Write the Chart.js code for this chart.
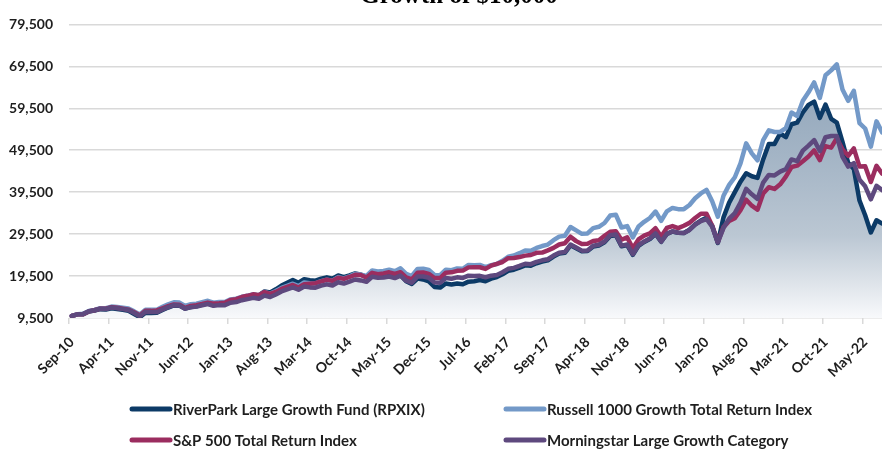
<!DOCTYPE html>
<html>
<head>
<meta charset="utf-8">
<title>Growth of $10,000</title>
<script src="https://cdn.jsdelivr.net/npm/chart.js@4.4.0/dist/chart.umd.min.js"></script>
<style>
  html, body { margin: 0; padding: 0; background: #fff; overflow: hidden; }
  #wrap { position: relative; width: 885px; height: 449px; }
</style>
</head>
<body>
<div id="wrap"><canvas id="growthChart"></canvas></div>
<script>
// month-end categories, Sep-10 .. Aug-22
const months = [
  'Sep-10', 'Oct-10', 'Nov-10', 'Dec-10',
  'Jan-11', 'Feb-11', 'Mar-11', 'Apr-11', 'May-11', 'Jun-11', 'Jul-11', 'Aug-11', 'Sep-11', 'Oct-11', 'Nov-11', 'Dec-11',
  'Jan-12', 'Feb-12', 'Mar-12', 'Apr-12', 'May-12', 'Jun-12', 'Jul-12', 'Aug-12', 'Sep-12', 'Oct-12', 'Nov-12', 'Dec-12',
  'Jan-13', 'Feb-13', 'Mar-13', 'Apr-13', 'May-13', 'Jun-13', 'Jul-13', 'Aug-13', 'Sep-13', 'Oct-13', 'Nov-13', 'Dec-13',
  'Jan-14', 'Feb-14', 'Mar-14', 'Apr-14', 'May-14', 'Jun-14', 'Jul-14', 'Aug-14', 'Sep-14', 'Oct-14', 'Nov-14', 'Dec-14',
  'Jan-15', 'Feb-15', 'Mar-15', 'Apr-15', 'May-15', 'Jun-15', 'Jul-15', 'Aug-15', 'Sep-15', 'Oct-15', 'Nov-15', 'Dec-15',
  'Jan-16', 'Feb-16', 'Mar-16', 'Apr-16', 'May-16', 'Jun-16', 'Jul-16', 'Aug-16', 'Sep-16', 'Oct-16', 'Nov-16', 'Dec-16',
  'Jan-17', 'Feb-17', 'Mar-17', 'Apr-17', 'May-17', 'Jun-17', 'Jul-17', 'Aug-17', 'Sep-17', 'Oct-17', 'Nov-17', 'Dec-17',
  'Jan-18', 'Feb-18', 'Mar-18', 'Apr-18', 'May-18', 'Jun-18', 'Jul-18', 'Aug-18', 'Sep-18', 'Oct-18', 'Nov-18', 'Dec-18',
  'Jan-19', 'Feb-19', 'Mar-19', 'Apr-19', 'May-19', 'Jun-19', 'Jul-19', 'Aug-19', 'Sep-19', 'Oct-19', 'Nov-19', 'Dec-19',
  'Jan-20', 'Feb-20', 'Mar-20', 'Apr-20', 'May-20', 'Jun-20', 'Jul-20', 'Aug-20', 'Sep-20', 'Oct-20', 'Nov-20', 'Dec-20',
  'Jan-21', 'Feb-21', 'Mar-21', 'Apr-21', 'May-21', 'Jun-21', 'Jul-21', 'Aug-21', 'Sep-21', 'Oct-21', 'Nov-21', 'Dec-21',
  'Jan-22', 'Feb-22', 'Mar-22', 'Apr-22', 'May-22', 'Jun-22', 'Jul-22', 'Aug-22',
];

// labels actually printed under the axis
const xTickLabels = [
  'Sep-10', 'Apr-11', 'Nov-11', 'Jun-12', 'Jan-13', 'Aug-13', 'Mar-14', 'Oct-14', 'May-15', 'Dec-15', 'Jul-16',
  'Feb-17', 'Sep-17', 'Apr-18', 'Nov-18', 'Jun-19', 'Jan-20', 'Aug-20', 'Mar-21', 'Oct-21', 'May-22',
];

const yTickValues = [9500, 19500, 29500, 39500, 49500, 59500, 69500, 79500];

const seriesNames = [
  'RiverPark Large Growth Fund (RPXIX)',
  'Russell 1000 Growth Total Return Index',
  'S&P 500 Total Return Index',
  'Morningstar Large Growth Category',
];

const riverPark = [
  10000, 10370, 10420, 11070,
  11260, 11600, 11540, 11840, 11660, 11430, 11200, 10470, 9700, 10770, 10720, 10730,
  11400, 12000, 12480, 12450, 11730, 12130, 12300, 12680, 13020, 12620, 12830, 12870,
  13530, 13770, 14300, 14660, 15050, 14900, 15830, 15580, 16350, 17230, 17890, 18550,
  17920, 18760, 18490, 18400, 18880, 19200, 18860, 19630, 19220, 19640, 20150, 19850,
  19320, 20390, 19940, 19820, 19890, 19310, 19710, 18290, 17610, 18890, 18700, 18210,
  16890, 16750, 17730, 17500, 17720, 17530, 18170, 18280, 18540, 18280, 18870, 19280,
  19940, 20770, 21020, 21500, 22050, 21980, 22550, 22950, 23240, 24140, 24860, 25050,
  26820, 26110, 25390, 25450, 26540, 26790, 27550, 29050, 29220, 26600, 26880, 24560,
  26710, 27620, 28340, 29590, 27670, 29520, 30140, 29840, 29780, 30550, 31830, 32720,
  33400, 31500, 27400, 33500, 37000, 39500, 42000, 44000, 43300, 42900, 47300, 51000,
  51000, 53500, 52600, 55700, 56100, 58500, 60300, 61100, 57200, 60400, 57000, 56100,
  51500, 46500, 45000, 37500, 34000, 29900, 32800, 32000,
];

const russellGrowth = [
  10000, 10400, 10490, 11190,
  11440, 11850, 11850, 12230, 12120, 11950, 11770, 11080, 10320, 11480, 11450, 11480,
  12160, 12770, 13240, 13170, 12380, 12770, 12920, 13280, 13600, 13150, 13330, 13330,
  13930, 14100, 14550, 14830, 15140, 14900, 15700, 15330, 15950, 16670, 17170, 17670,
  17120, 17980, 17780, 17740, 18280, 18640, 18400, 19250, 18940, 19450, 20050, 19850,
  19530, 20840, 20610, 20720, 21030, 20650, 21330, 20030, 19510, 21190, 21230, 20930,
  19760, 19720, 21020, 20890, 21310, 21230, 22160, 22070, 22160, 21630, 22100, 22370,
  23130, 24100, 24390, 24950, 25600, 25520, 26190, 26660, 27010, 28060, 28900, 29130,
  31200, 30390, 29570, 29660, 30930, 31240, 32150, 33920, 34120, 31080, 31420, 28720,
  31310, 32430, 33340, 34880, 32680, 34930, 35740, 35450, 35450, 36440, 38050, 39190,
  40050, 37330, 33670, 38650, 41240, 43060, 46370, 51150, 48750, 47090, 51890, 54230,
  53850, 53850, 54760, 58490, 57670, 61300, 63320, 65670, 61990, 67380, 68530, 69970,
  63960, 61280, 63670, 55980, 54680, 50350, 56390, 53760,
];

const sp500 = [
  10000, 10380, 10380, 11070,
  11340, 11730, 11730, 12080, 11940, 11740, 11500, 10880, 10110, 11220, 11200, 11310,
  11820, 12330, 12730, 12650, 11890, 12380, 12560, 12840, 13170, 12930, 13000, 13120,
  13800, 13990, 14510, 14790, 15140, 14930, 15690, 15240, 15720, 16440, 16940, 17370,
  16770, 17540, 17680, 17810, 18230, 18610, 18350, 19090, 18820, 19280, 19800, 19750,
  19160, 20260, 19940, 20130, 20390, 19990, 20410, 19180, 18710, 20290, 20350, 20030,
  19040, 19010, 20300, 20380, 20750, 20800, 21570, 21600, 21600, 21210, 21990, 22430,
  22850, 23760, 23790, 24030, 24370, 24520, 25030, 25110, 25620, 26220, 27030, 27330,
  28890, 27830, 27120, 27220, 27880, 28050, 29090, 30040, 30210, 28150, 28720, 26130,
  28220, 29130, 29690, 30900, 28930, 30970, 31420, 30920, 31500, 32180, 33350, 34360,
  34340, 31520, 27630, 31170, 32650, 33300, 35180, 37710, 36280, 35310, 39180, 40680,
  40270, 41380, 43200, 45500, 45820, 46890, 48010, 49460, 47160, 50470, 50120, 52370,
  49660, 48170, 49960, 45600, 45690, 41920, 45780, 43910,
];

const morningstarGrowth = [
  10000, 10380, 10460, 11130,
  11340, 11700, 11660, 11990, 11830, 11620, 11410, 10690, 9920, 11000, 10920, 10910,
  11540, 12110, 12550, 12470, 11720, 12080, 12210, 12550, 12840, 12400, 12570, 12560,
  13140, 13300, 13740, 14010, 14310, 14090, 14870, 14510, 15120, 15820, 16300, 16790,
  16240, 17020, 16800, 16740, 17210, 17520, 17260, 18030, 17710, 18150, 18680, 18460,
  18140, 19320, 19080, 19140, 19400, 19020, 19610, 18390, 17880, 19380, 19390, 19090,
  17980, 17890, 19020, 18870, 19190, 19060, 19600, 19500, 19550, 19220, 19590, 19770,
  20410, 21230, 21450, 21910, 22440, 22330, 22880, 23250, 23510, 24380, 25070, 25230,
  27000, 26290, 25560, 25620, 26710, 26960, 27730, 29230, 29390, 26760, 27040, 24700,
  26850, 27740, 28440, 29670, 27720, 29550, 30150, 29820, 29740, 30490, 31740, 32600,
  33100, 31300, 27500, 31000, 33200, 34500, 37000, 40300, 39000, 37900, 41800, 43600,
  43500, 44400, 45000, 47300, 46900, 49400, 50600, 51900, 49300, 52600, 52900, 52900,
  47900, 45600, 46400, 42500, 40900, 37800, 41000, 40000,
];

const colors = ['#0c3a66', '#7399c8', '#9b2d5f', '#5e497e'];
const labelFont = { family: 'Lato, "Open Sans", sans-serif', size: 14, weight: '700' };
const textColor = '#1e1e1e';
const lightGrid = '#d9d9d9';

function isLabelled(index) {
  return xTickLabels.includes(months[index]);
}

// shaded area under the fund line, fading to white at the axis
function fundFill(context) {
  const chart = context.chart;
  const area = chart.chartArea;
  if (!area) {
    return 'rgba(0,0,0,0)';
  }
  const g = chart.ctx.createLinearGradient(0, area.top, 0, area.bottom);
  g.addColorStop(0, 'rgb(132,155,178)');
  g.addColorStop(0.44, 'rgb(163,180,197)');
  g.addColorStop(0.72, 'rgb(187,199,211)');
  g.addColorStop(1, 'rgb(248,249,251)');
  return g;
}

// title (cropped at the top) and the two-column legend
const decorations = {
  id: 'decorations',
  afterDraw(chart) {
    const c = chart.ctx;
    c.save();
    c.fillStyle = '#000';
    c.font = 'bold 25px "Liberation Serif", "Times New Roman", serif';
    c.textAlign = 'center';
    c.textBaseline = 'alphabetic';
    c.fillText('Growth of $10,000', 459, 3);

    const cols = [132, 506];
    const rows = [409, 440];
    c.font = '700 15px Lato, "Open Sans", sans-serif';
    c.textAlign = 'left';
    c.textBaseline = 'middle';
    seriesNames.forEach((name, i) => {
      const x = cols[i % 2];
      const y = rows[Math.floor(i / 2)];
      c.strokeStyle = colors[i];
      c.lineWidth = 5;
      c.lineCap = 'round';
      c.beginPath();
      c.moveTo(x, y);
      c.lineTo(x + 38, y);
      c.stroke();
      c.fillStyle = textColor;
      c.fillText(name, x + 41, y + 1);
    });
    c.restore();
  },
};

const ctx = document.getElementById('growthChart');
const growthChart = new Chart(ctx, {
  type: 'line',
  data: {
    labels: months,
    datasets: [
      {
        label: seriesNames[0],
        data: riverPark,
        borderColor: colors[0],
        backgroundColor: fundFill,
        fill: 'start',
        order: 4,
      },
      {
        label: seriesNames[1],
        data: russellGrowth,
        borderColor: colors[1],
        fill: false,
        order: 3,
      },
      {
        label: seriesNames[2],
        data: sp500,
        borderColor: colors[2],
        fill: false,
        order: 2,
      },
      {
        label: seriesNames[3],
        data: morningstarGrowth,
        borderColor: colors[3],
        fill: false,
        order: 1,
      },
    ],
  },
  options: {
    responsive: true,
    maintainAspectRatio: false,
    animation: false,
    elements: {
      point: { radius: 0, hoverRadius: 0 },
      line: { borderWidth: 4.5, tension: 0, borderJoinStyle: 'round', borderCapStyle: 'round' },
    },
    layout: { padding: { top: 18, right: 0, bottom: 0, left: 0 } },
    plugins: {
      legend: { display: false },
      tooltip: { enabled: false },
    },
    scales: {
      x: {
        offset: true,
        border: { display: false },
        grid: {
          offset: true,
          drawOnChartArea: false,
          drawTicks: true,
          tickLength: 6,
          lineWidth: 1.5,
          color: (c) => (isLabelled(c.index) ? lightGrid : 'rgba(0,0,0,0)'),
          tickColor: (c) => (isLabelled(c.index) ? lightGrid : 'rgba(0,0,0,0)'),
        },
        ticks: {
          autoSkip: false,
          maxRotation: 45,
          minRotation: 45,
          padding: 10,
          color: textColor,
          font: labelFont,
          // keep every category as a tick so the tick marks sit on category edges
          callback: function (value, index) {
            return isLabelled(index) ? months[index] : '';
          },
        },
        afterFit(scale) {
          scale.height = 131;
          scale.paddingLeft = 0;
          scale.paddingRight = 0;
        },
      },
      y: {
        min: 9500,
        max: 79500,
        border: { display: false },
        grid: { color: lightGrid, lineWidth: 1.5, drawTicks: false },
        ticks: {
          padding: 16,
          color: textColor,
          font: labelFont,
          callback: (v) => v.toLocaleString('en-US'),
        },
        afterBuildTicks(scale) {
          scale.ticks = yTickValues.map((v) => ({ value: v }));
        },
        afterFit(scale) {
          scale.width = 69;
        },
      },
    },
  },
  plugins: [decorations],
});
</script>
</body>
</html>
